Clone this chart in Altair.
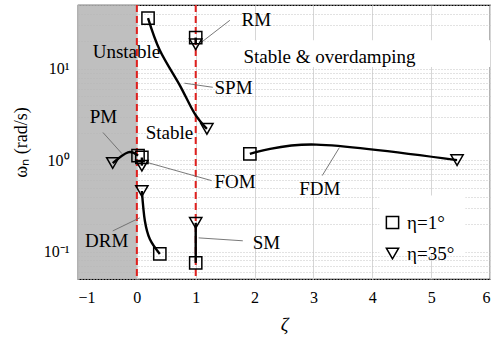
import altair as alt
import pandas as pd

FONT = "Liberation Serif"

# ---- root-locus curves (first point: eta=1 deg, last point: eta=35 deg)
mode_names = ["SPM", "RM", "PM", "FOM", "DRM", "SM", "FDM"]
spm_x = [0.19, 0.39, 0.73, 0.98, 1.19]
spm_y = [36, 16, 6.6, 3.25, 2.2]
rm_x = [1.0, 1.0]
rm_y = [22, 18.6]
pm_x = [0.02, -0.15, -0.41]
pm_y = [1.12, 1.22, 0.93]
fom_x = [0.085, 0.085]
fom_y = [1.07, 0.87]
drm_x = [0.39, 0.22, 0.136, 0.085]
drm_y = [0.094, 0.137, 0.217, 0.46]
sm_x = [1.0, 1.0]
sm_y = [0.075, 0.206]
fdm_x = [1.92, 3.05, 5.44]
fdm_y = [1.17, 1.48, 1.0]
curve_x = [spm_x, rm_x, pm_x, fom_x, drm_x, sm_x, fdm_x]
curve_y = [spm_y, rm_y, pm_y, fom_y, drm_y, sm_y, fdm_y]

legend_labels = ["η=1°", "η=35°"]

# ---- annotation texts (data coords of left edge / vertical middle)
label_text = ["Unstable", "Stable & overdamping", "Stable", "RM", "SPM", "PM",
              "FOM", "FDM", "SM", "DRM"]
label_x = [-0.75, 1.81, 0.15, 1.78, 1.32, -0.80, 1.32, 2.76, 1.97, -0.88]
label_y = [15.2, 13.4, 1.96, 34, 6.1, 2.94, 0.57, 0.487, 0.124, 0.129]

# ---- leader lines
lead_x = [1.58, 1.29, -0.576, 1.27, 3.15, 1.80, -0.41]
lead_y = [34, 6.28, 2.01, 0.597, 0.678, 0.131, 0.168]
lead_x2 = [1.10, 0.81, -0.254, 0.186, 3.44, 1.05, 0.05]
lead_y2 = [19.6, 6.96, 1.18, 0.94, 1.37, 0.141, 0.234]

# ---- regions
unstable_x = [-1.0]
unstable_x2 = [0.0]
boundary_x = [0.0, 1.0]
bg_x = [1.76, 4.12]
bg_x2 = [6.0, 5.58]
bg_y = [10.5, 0.094]
bg_y2 = [20.6, 0.41]

x_ticks = [-1, 0, 1, 2, 3, 4, 5, 6]
y_domain = [0.05, 50]
y_grid = [0.05, 0.06, 0.07, 0.08, 0.09, 0.1, 0.2, 0.3, 0.4, 0.5, 0.6, 0.7, 0.8,
          0.9, 1, 2, 3, 4, 5, 6, 7, 8, 9, 10, 20, 30, 40, 50]

rows = []
pts = []
for name, xs_, ys_ in zip(mode_names, curve_x, curve_y):
    for i, (a, b) in enumerate(zip(xs_, ys_)):
        rows.append({"mode": name, "i": i, "x": a, "y": b})
    pts.append({"mode": name, "x": xs_[0], "y": ys_[0], "eta": legend_labels[0]})
    pts.append({"mode": name, "x": xs_[-1], "y": ys_[-1], "eta": legend_labels[1]})
curves = pd.DataFrame(rows)
points = pd.DataFrame(pts)

xs = alt.Scale(domain=[-1, 6], nice=False, zero=False)
ys = alt.Scale(type="log", domain=y_domain, nice=False)

x_axis = alt.Axis(values=x_ticks, format="d", title="ζ", titleFont=FONT,
                  titleFontSize=19, titleFontStyle="italic",
                  titleFontWeight="normal", titleY=45, titleBaseline="middle",
                  labelFont=FONT, labelFontSize=16, labelColor="black",
                  labelPadding=10, ticks=False, domain=False,
                  grid=True, gridColor="#d6d6d6", gridWidth=1)
y_axis = alt.Axis(values=y_grid, title="ωₙ (rad/s)", titleFont=FONT,
                  titleFontSize=18, titleFontWeight="normal",
                  titleX=-57, titleY=137, titleAngle=270, titleAlign="center",
                  titleBaseline="middle",
                  labelFont=FONT, labelFontSize=16, labelColor="black",
                  labelPadding=9, ticks=False, domain=False,
                  labelExpr="datum.value == 10 ? '10¹' : datum.value == 1 ? '10⁰' : datum.value == 0.1 ? '10⁻¹' : ''",
                  grid=True, gridColor="#c4c4c4", gridDash=[1, 2], gridWidth=1)

gray = alt.Chart(pd.DataFrame({"x": unstable_x, "x2": unstable_x2})).mark_rect(
    color="#b4b4b4", opacity=0.85
).encode(
    x=alt.X("x:Q", scale=xs, axis=x_axis),
    x2="x2:Q",
    y=alt.value(0),
    y2=alt.value(274),
)

bgs = alt.Chart(pd.DataFrame({"x": bg_x, "x2": bg_x2, "y": bg_y, "y2": bg_y2})).mark_rect(
    color="white"
).encode(
    x=alt.X("x:Q", scale=xs),
    x2="x2:Q",
    y=alt.Y("y:Q", scale=ys, axis=y_axis),
    y2="y2:Q",
)

reds = alt.Chart(pd.DataFrame({"x": boundary_x})).mark_rule(
    color="#e0201e", strokeDash=[7, 4], strokeWidth=2
).encode(x=alt.X("x:Q", scale=xs))

leads = alt.Chart(pd.DataFrame({"x": lead_x, "y": lead_y, "x2": lead_x2, "y2": lead_y2})).mark_rule(
    color="#6a6a6a", strokeWidth=0.9
).encode(
    x=alt.X("x:Q", scale=xs), y=alt.Y("y:Q", scale=ys), x2="x2:Q", y2="y2:Q"
)

lines = alt.Chart(curves).mark_line(
    color="black", strokeWidth=2.4, interpolate="cardinal"
).encode(
    x=alt.X("x:Q", scale=xs),
    y=alt.Y("y:Q", scale=ys),
    detail="mode:N",
    order="i:Q",
)

marks = alt.Chart(points).mark_point(
    filled=False, color="black", strokeWidth=1.5, opacity=1, size=150
).encode(
    x=alt.X("x:Q", scale=xs),
    y=alt.Y("y:Q", scale=ys),
    shape=alt.Shape("eta:N", scale=alt.Scale(domain=legend_labels,
                                             range=["square", "triangle-down"]),
                    legend=alt.Legend(title=None, orient="none", legendX=305,
                                      legendY=208, labelFont=FONT,
                                      labelFontSize=19, labelColor="black",
                                      symbolStrokeColor="black",
                                      symbolFillColor="white",
                                      symbolStrokeWidth=1.5, symbolSize=150,
                                      rowPadding=11, labelOffset=5, padding=0)),
)

texts = alt.Chart(pd.DataFrame({"t": label_text, "x": label_x, "y": label_y})).mark_text(
    font=FONT, fontSize=19, color="black", align="left", baseline="middle"
).encode(
    x=alt.X("x:Q", scale=xs), y=alt.Y("y:Q", scale=ys), text="t:N"
)

chart = alt.layer(gray, bgs, reds, leads, lines, marks, texts).properties(
    width=412, height=274,
    autosize=alt.AutoSizeParams(type="none"),
    padding={"left": 78, "top": 5, "right": 6, "bottom": 61},
).configure_view(stroke="black", strokeWidth=1.2)

chart.save("out.html", embed_options={"renderer": "svg", "actions": False})
